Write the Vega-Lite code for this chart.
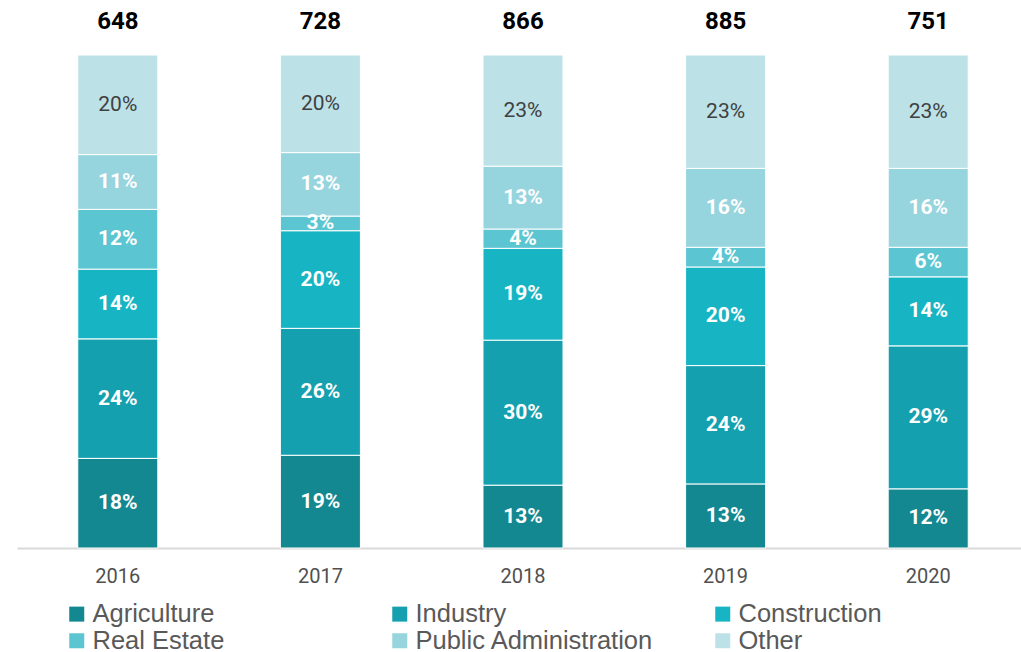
{
  "$schema": "https://vega.github.io/schema/vega-lite/v6.json",
  "autosize": "none",
  "width": 1004,
  "height": 493,
  "padding": {"left": 17, "top": 55, "right": 0, "bottom": 104},
  "background": "white",
  "config": {"view": {"stroke": null}},
  "datasets": {
    "shares": [
      {"year": "2016", "sector": "Agriculture", "order": 1, "pct": 0.18},
      {"year": "2016", "sector": "Industry", "order": 2, "pct": 0.24},
      {"year": "2016", "sector": "Construction", "order": 3, "pct": 0.14},
      {"year": "2016", "sector": "Real Estate", "order": 4, "pct": 0.12},
      {"year": "2016", "sector": "Public Administration", "order": 5, "pct": 0.11},
      {"year": "2016", "sector": "Other", "order": 6, "pct": 0.20},
      {"year": "2017", "sector": "Agriculture", "order": 1, "pct": 0.19},
      {"year": "2017", "sector": "Industry", "order": 2, "pct": 0.26},
      {"year": "2017", "sector": "Construction", "order": 3, "pct": 0.20},
      {"year": "2017", "sector": "Real Estate", "order": 4, "pct": 0.03},
      {"year": "2017", "sector": "Public Administration", "order": 5, "pct": 0.13},
      {"year": "2017", "sector": "Other", "order": 6, "pct": 0.20},
      {"year": "2018", "sector": "Agriculture", "order": 1, "pct": 0.13},
      {"year": "2018", "sector": "Industry", "order": 2, "pct": 0.30},
      {"year": "2018", "sector": "Construction", "order": 3, "pct": 0.19},
      {"year": "2018", "sector": "Real Estate", "order": 4, "pct": 0.04},
      {"year": "2018", "sector": "Public Administration", "order": 5, "pct": 0.13},
      {"year": "2018", "sector": "Other", "order": 6, "pct": 0.23},
      {"year": "2019", "sector": "Agriculture", "order": 1, "pct": 0.13},
      {"year": "2019", "sector": "Industry", "order": 2, "pct": 0.24},
      {"year": "2019", "sector": "Construction", "order": 3, "pct": 0.20},
      {"year": "2019", "sector": "Real Estate", "order": 4, "pct": 0.04},
      {"year": "2019", "sector": "Public Administration", "order": 5, "pct": 0.16},
      {"year": "2019", "sector": "Other", "order": 6, "pct": 0.23},
      {"year": "2020", "sector": "Agriculture", "order": 1, "pct": 0.12},
      {"year": "2020", "sector": "Industry", "order": 2, "pct": 0.29},
      {"year": "2020", "sector": "Construction", "order": 3, "pct": 0.14},
      {"year": "2020", "sector": "Real Estate", "order": 4, "pct": 0.06},
      {"year": "2020", "sector": "Public Administration", "order": 5, "pct": 0.16},
      {"year": "2020", "sector": "Other", "order": 6, "pct": 0.23}
    ],
    "totals": [
      {"year": "2016", "total": 648},
      {"year": "2017", "total": 728},
      {"year": "2018", "total": 866},
      {"year": "2019", "total": 885},
      {"year": "2020", "total": 751}
    ]
  },
  "encoding": {
    "x": {
      "field": "year", "type": "nominal",
      "scale": {"range": [0, 1012], "paddingInner": 0.605, "paddingOuter": 0.3},
      "axis": {
        "title": null, "labelAngle": 0, "ticks": false,
        "domainColor": "#d9d9d9", "domainWidth": 2,
        "labelFont": "Roboto", "labelFontSize": 20, "labelColor": "#505050",
        "labelPadding": 18
      }
    }
  },
  "layer": [
    {
      "data": {"name": "shares"},
      "transform": [
        {"stack": "pct", "groupby": ["year"], "sort": [{"field": "order"}], "offset": "normalize", "as": ["y0", "y1"]},
        {"calculate": "(datum.y0 + datum.y1) / 2", "as": "mid"}
      ],
      "layer": [
        {
          "mark": {"type": "bar", "stroke": "white", "strokeWidth": 1},
          "encoding": {
            "y": {"field": "y0", "type": "quantitative", "scale": {"domain": [0, 1]}, "axis": null},
            "y2": {"field": "y1"},
            "color": {
              "field": "sector", "type": "nominal",
              "scale": {
                "domain": ["Agriculture", "Industry", "Construction", "Real Estate", "Public Administration", "Other"],
                "range": ["#138891", "#14A0AE", "#17B5C3", "#5BC5D2", "#96D4DE", "#BCE2E8"]
              },
              "legend": {
                "title": null, "orient": "none", "legendX": 47, "legendY": 546, "padding": 0,
                "direction": "horizontal", "columns": 3, "gridAlign": "all",
                "symbolType": "square", "symbolSize": 225, "symbolStrokeWidth": 0,
                "labelFont": "Liberation Sans", "labelFontSize": 25.5, "labelColor": "#595959",
                "labelLimit": 400, "columnPadding": 56, "rowPadding": 0, "labelOffset": 3
              }
            }
          }
        },
        {
          "transform": [{"filter": "datum.sector !== 'Other'"}],
          "mark": {"type": "text", "font": "Roboto", "fontSize": 21, "fontWeight": "bold", "baseline": "middle", "color": "white"},
          "encoding": {
            "y": {"field": "mid", "type": "quantitative", "scale": {"domain": [0, 1]}},
            "text": {"field": "pct", "type": "quantitative", "format": ".0%"}
          }
        },
        {
          "transform": [{"filter": "datum.sector === 'Other'"}],
          "mark": {"type": "text", "font": "Roboto", "fontSize": 21, "fontWeight": "normal", "baseline": "middle", "color": "#404040"},
          "encoding": {
            "y": {"field": "mid", "type": "quantitative", "scale": {"domain": [0, 1]}},
            "text": {"field": "pct", "type": "quantitative", "format": ".0%"}
          }
        }
      ]
    },
    {
      "data": {"name": "totals"},
      "mark": {"type": "text", "font": "Roboto", "fontSize": 24, "fontWeight": "bold", "color": "black", "baseline": "middle", "dy": -33},
      "encoding": {
        "y": {"datum": 1, "type": "quantitative", "scale": {"domain": [0, 1]}},
        "text": {"field": "total", "type": "quantitative"}
      }
    }
  ]
}
